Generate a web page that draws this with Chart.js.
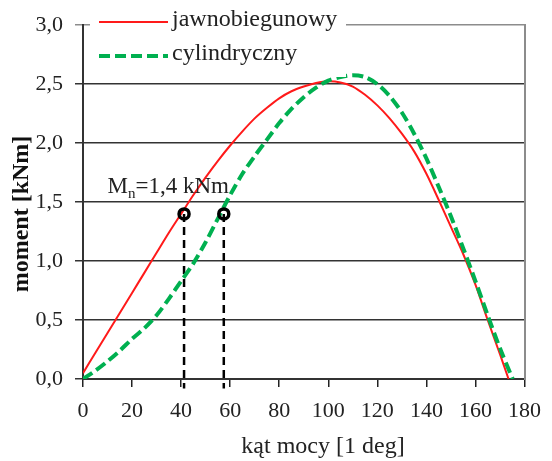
<!DOCTYPE html>
<html>
<head>
<meta charset="utf-8">
<script src="https://cdn.jsdelivr.net/npm/chart.js@4.4.1/dist/chart.umd.min.js"></script>
<style>
  html, body { margin: 0; padding: 0; background: #fff; }
</style>
</head>
<body>
<canvas id="momentChart" width="552" height="461"></canvas>
<script>
// kąt mocy [deg] and moment [kNm]
const angleRed = [0, 5, 10, 15, 20, 25, 30, 35, 40, 45, 50, 55, 60, 65, 70, 75, 80, 85, 90, 95,
  100, 105, 110, 115, 120, 125, 130, 135, 140, 145, 150, 155, 160, 165, 170, 173.5];
const momentRed = [0.05, 0.22, 0.39, 0.56, 0.73, 0.90, 1.07, 1.24, 1.40, 1.56, 1.71, 1.85, 1.98, 2.10, 2.21, 2.30, 2.38, 2.44, 2.48, 2.51,
  2.525, 2.515, 2.48, 2.41, 2.32, 2.21, 2.08, 1.93, 1.74, 1.52, 1.29, 1.06, 0.80, 0.50, 0.21, 0];

const angleGreen = [0, 5, 10, 15, 20, 25, 30, 35, 40, 45, 50, 55, 60, 65, 70, 75, 80, 85, 90, 95,
  100, 105, 110, 115, 120, 125, 130, 135, 140, 145, 150, 155, 160, 165, 170, 175.2];
const momentGreen = [0, 0.07, 0.15, 0.24, 0.34, 0.43, 0.54, 0.68, 0.83, 0.98, 1.16, 1.36, 1.56, 1.74, 1.89, 2.03, 2.17, 2.29, 2.39, 2.47,
  2.53, 2.56, 2.575, 2.56, 2.50, 2.40, 2.26, 2.08, 1.87, 1.63, 1.38, 1.11, 0.83, 0.54, 0.26, 0];

const seriesNames = ["jawnobiegunowy", "cylindryczny"];
const ratedMoment = 1.4;
const ratedAngles = [41.2, 57.4];
const ratedLabel = ["M", "n", "=1,4 kNm"];

const xTicks = [0, 20, 40, 60, 80, 100, 120, 140, 160, 180];
const yTicks = [0, 0.5, 1.0, 1.5, 2.0, 2.5, 3.0];
const xTitle = "kąt mocy [1 deg]";
const yTitle = "moment [kNm]";

const serif = "'Liberation Serif', 'Times New Roman', serif";

function toPoints(xs, ys) {
  return xs.map((x, i) => ({ x: x, y: ys[i] }));
}

// legend, M_n label and axis titles drawn on top of the chart
const overlayPlugin = {
  id: "overlay",
  afterDraw(chart) {
    const ctx = chart.ctx;
    const xs = chart.scales.x;
    const ys = chart.scales.y;
    ctx.save();

    // legend box
    ctx.fillStyle = "#fff";
    ctx.fillRect(90, 3, 256, 74);
    const rows = [
      { ds: chart.data.datasets[0], y: 22 },
      { ds: chart.data.datasets[1], y: 56 },
    ];
    rows.forEach((r) => {
      ctx.beginPath();
      ctx.strokeStyle = r.ds.borderColor;
      ctx.lineWidth = r.ds.borderWidth;
      ctx.setLineDash(r.ds.borderDash || []);
      ctx.moveTo(99, r.y);
      ctx.lineTo(168, r.y);
      ctx.stroke();
      ctx.setLineDash([]);
      ctx.fillStyle = "#222";
      ctx.font = "24px " + serif;
      ctx.textBaseline = "middle";
      ctx.fillText(r.ds.label, 172, r.y - 2);
    });

    // M_n = 1,4 kNm
    let px = xs.getPixelForValue(10);
    const py = ys.getPixelForValue(1.58);
    ctx.fillStyle = "#222";
    ctx.textBaseline = "alphabetic";
    ctx.font = "23px " + serif;
    ctx.fillText(ratedLabel[0], px, py);
    px += ctx.measureText(ratedLabel[0]).width;
    ctx.font = "15px " + serif;
    ctx.fillText(ratedLabel[1], px, py + 5);
    px += ctx.measureText(ratedLabel[1]).width;
    ctx.font = "23px " + serif;
    ctx.fillText(ratedLabel[2], px, py);

    // x axis title
    ctx.font = "24px " + serif;
    ctx.textAlign = "center";
    ctx.fillText(xTitle, 323, 453);

    // y axis title
    ctx.translate(22, 214);
    ctx.rotate(-Math.PI / 2);
    ctx.font = "bold 24px " + serif;
    ctx.fillStyle = "#111";
    ctx.textBaseline = "middle";
    ctx.fillText(yTitle, 0, 0);

    ctx.restore();
  },
};

const ctx = document.getElementById("momentChart").getContext("2d");

const datasets = [
  {
    label: seriesNames[0],
    data: toPoints(angleRed, momentRed),
    borderColor: "#ff1a1a",
    borderWidth: 2,
    showLine: true,
    pointRadius: 0,
    tension: 0.3,
    order: 2,
  },
  {
    label: seriesNames[1],
    data: toPoints(angleGreen, momentGreen),
    borderColor: "#00b050",
    borderWidth: 4,
    borderDash: [11, 5],
    showLine: true,
    pointRadius: 0,
    tension: 0.3,
    order: 1,
  },
];

ratedAngles.forEach((a) => {
  datasets.push({
    label: "drop",
    data: [{ x: a, y: ratedMoment }, { x: a, y: -0.08 }],
    borderColor: "#000",
    borderWidth: 2.5,
    borderDash: [8, 5],
    showLine: true,
    pointRadius: 0,
    clip: false,
    order: 3,
  });
});

datasets.push({
  label: "rated",
  data: ratedAngles.map((a) => ({ x: a, y: ratedMoment })),
  showLine: false,
  pointRadius: 5,
  pointBorderWidth: 3.5,
  pointBorderColor: "#000",
  pointBackgroundColor: "rgba(0,0,0,0)",
  order: 0,
});

new Chart(ctx, {
  type: "scatter",
  data: { datasets: datasets },
  options: {
    responsive: false,
    animation: false,
    devicePixelRatio: 1,
    layout: { padding: { top: 20, right: 19, left: 0, bottom: 0 } },
    plugins: {
      legend: { display: false },
      tooltip: { enabled: false },
    },
    scales: {
      x: {
        type: "linear",
        min: 0,
        max: 180,
        afterBuildTicks: (scale) => {
          scale.ticks = xTicks.map((v) => ({ value: v }));
        },
        afterFit: (scale) => {
          scale.height = 82;
        },
        grid: {
          drawOnChartArea: false,
          drawTicks: true,
          tickLength: 8,
          color: "#222",
          lineWidth: 1.5,
        },
        border: { color: "#333", width: 2 },
        ticks: {
          color: "#222",
          padding: 11,
          maxRotation: 0,
          font: { family: serif, size: 22 },
        },
      },
      y: {
        type: "linear",
        min: 0,
        max: 3,
        afterBuildTicks: (scale) => {
          scale.ticks = yTicks.map((v) => ({ value: v }));
        },
        afterFit: (scale) => {
          scale.width = 83;
        },
        grid: {
          drawTicks: true,
          tickLength: 8,
          color: (c) => (c.tick && c.tick.value === 3 ? "#8c8c8c" : "#333"),
          lineWidth: 1.5,
        },
        border: { color: "#333", width: 2 },
        ticks: {
          color: "#222",
          padding: 12,
          font: { family: serif, size: 22 },
          callback: (v) => v.toFixed(1).replace(".", ","),
        },
      },
      y2: {
        type: "linear",
        position: "right",
        min: 0,
        max: 3,
        afterFit: (scale) => {
          scale.width = 0;
        },
        grid: { drawOnChartArea: false, drawTicks: false },
        border: { color: "#8c8c8c", width: 2 },
        ticks: { display: false },
      },
    },
  },
  plugins: [overlayPlugin],
});
</script>
</body>
</html>
